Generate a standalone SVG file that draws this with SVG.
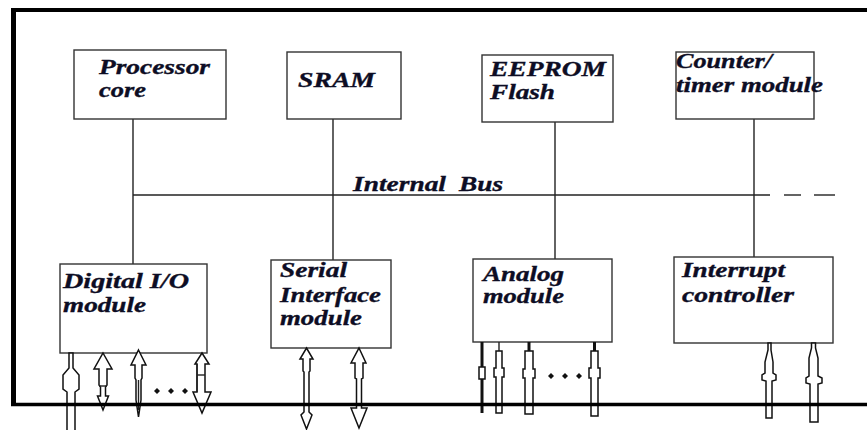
<svg xmlns="http://www.w3.org/2000/svg" width="867" height="430" viewBox="0 0 867 430">
  <style>
    .box { fill: #fff; stroke: #333; stroke-width: 1.4; }
    .lbl { font-family: "Liberation Serif", "DejaVu Serif", serif; font-weight: 700; font-style: italic; font-size: 21px; fill: #0d0d24; stroke: #0d0d24; stroke-width: 0.35; }
    .wire { stroke: #222; stroke-width: 1.4; fill: none; }
    .io { fill: #fff; stroke: #111; stroke-width: 1.5; stroke-linejoin: miter; }
    .thick { stroke: #111; stroke-width: 3; fill: none; }
    .frame { stroke: #000; fill: none; }
    .dot { fill: #111; }
  </style>
  <rect x="0" y="0" width="867" height="430" fill="#fff"/>

  <!-- internal bus and taps -->
  <g id="connectors">
    <line class="wire" x1="133" y1="195" x2="770" y2="195"/>
    <line class="wire" x1="784" y1="195" x2="801" y2="195"/>
    <line class="wire" x1="814" y1="195" x2="835" y2="195"/>
    <line class="wire" x1="133" y1="119" x2="133" y2="264"/>
    <line class="wire" x1="333" y1="119" x2="333" y2="260"/>
    <line class="wire" x1="555" y1="122" x2="555" y2="259"/>
    <line class="wire" x1="754" y1="119" x2="754" y2="257"/>
    <text class="lbl" x="353" y="191" textLength="93" lengthAdjust="spacingAndGlyphs">Internal</text>
    <text class="lbl" x="459" y="191" textLength="44" lengthAdjust="spacingAndGlyphs">Bus</text>
  </g>

  <g id="processor-core">
    <rect class="box" x="74" y="50" width="152" height="69"/>
    <text class="lbl" x="99" y="74" textLength="111" lengthAdjust="spacingAndGlyphs">Processor</text>
    <text class="lbl" x="99" y="97" textLength="47" lengthAdjust="spacingAndGlyphs">core</text>
  </g>
  <g id="sram">
    <rect class="box" x="287" y="52" width="114" height="67"/>
    <text class="lbl" x="298" y="87" textLength="77" lengthAdjust="spacingAndGlyphs">SRAM</text>
  </g>
  <g id="eeprom-flash">
    <rect class="box" x="482" y="55" width="131" height="67"/>
    <text class="lbl" x="490" y="76" textLength="116" lengthAdjust="spacingAndGlyphs">EEPROM</text>
    <text class="lbl" x="490" y="99" textLength="65" lengthAdjust="spacingAndGlyphs">Flash</text>
  </g>
  <g id="counter-timer">
    <rect class="box" x="676" y="52" width="138" height="67"/>
    <text class="lbl" x="676" y="68" textLength="96" lengthAdjust="spacingAndGlyphs">Counter/</text>
    <text class="lbl" x="676" y="92" textLength="147" lengthAdjust="spacingAndGlyphs">timer module</text>
  </g>
  <g id="digital-io">
    <rect class="box" x="60" y="264" width="147" height="89"/>
    <text class="lbl" x="63" y="288" textLength="126" lengthAdjust="spacingAndGlyphs">Digital I/O</text>
    <text class="lbl" x="63" y="312" textLength="83" lengthAdjust="spacingAndGlyphs">module</text>
  </g>
  <g id="serial-interface">
    <rect class="box" x="271" y="260" width="120" height="88"/>
    <text class="lbl" x="280" y="277" textLength="67" lengthAdjust="spacingAndGlyphs">Serial</text>
    <text class="lbl" x="280" y="302" textLength="101" lengthAdjust="spacingAndGlyphs">Interface</text>
    <text class="lbl" x="280" y="325" textLength="82" lengthAdjust="spacingAndGlyphs">module</text>
  </g>
  <g id="analog">
    <rect class="box" x="473" y="259" width="139" height="83"/>
    <text class="lbl" x="483" y="281" textLength="81" lengthAdjust="spacingAndGlyphs">Analog</text>
    <text class="lbl" x="483" y="303" textLength="81" lengthAdjust="spacingAndGlyphs">module</text>
  </g>
  <g id="interrupt-controller">
    <rect class="box" x="674" y="257" width="159" height="86"/>
    <text class="lbl" x="682" y="277" textLength="103" lengthAdjust="spacingAndGlyphs">Interrupt</text>
    <text class="lbl" x="682" y="302" textLength="112" lengthAdjust="spacingAndGlyphs">controller</text>
  </g>

  <!-- external I/O lines -->
  <g id="io-lines">
    <!-- digital I/O -->
    <polygon class="io" points="69,353 73,353 73,368 79,375 79,389 75,392 75,432 67,432 67,392 63,389 63,375 69,368"/>
    <polygon class="io" points="103,353 112,369 107,369 107,385 105.5,387 105.5,396 108.5,396 103,410 97.5,396 100.5,396 100.5,387 99,385 99,369 94,369"/>
    <line class="wire" x1="99" y1="386" x2="107" y2="386" stroke-width="2"/>
    <polygon class="io" points="138.5,350 146,365 142,365 142,378 141,380 141,400 138.5,417 136,400 136,380 135,378 135,365 131,365"/>
    <line class="wire" x1="138.5" y1="380" x2="138.5" y2="410" stroke-width="1"/>
    <polygon class="io" points="202,353 209,364 205,364 205,392 211,392 202,413 193,392 197,392 197,364 195,364"/>
    <line class="wire" x1="197" y1="375" x2="205" y2="375"/>
    <line class="wire" x1="197" y1="364" x2="197" y2="392" stroke-width="2.4"/>
    <polygon class="dot" points="157,388 160,391 157,394 154,391"/>
    <polygon class="dot" points="171,388 174,391 171,394 168,391"/>
    <polygon class="dot" points="185,388 188,391 185,394 182,391"/>

    <!-- serial interface -->
    <polygon class="io" points="306.5,348 313,359 310,359 310,371 309,372 309,412 312,415 306.5,429 301,415 304,412 304,372 303,371 303,359 300,359"/>
    <polygon class="io" points="359,348 366,363 363,363 363,378 361.5,379 361.5,408 367,408 359,428 351,408 356.5,408 356.5,379 355,378 355,363 351,363"/>

    <!-- analog -->
    <line class="thick" x1="482" y1="342" x2="482" y2="413"/>
    <rect class="io" x="479" y="367" width="6" height="12"/>
    <line class="wire" x1="499" y1="342" x2="499" y2="351"/>
    <polygon class="io" points="496,351 502,351 502,368 504,368 504,377 502,377 502,413 496,413 496,377 494,377 494,368 496,368"/>
    <line class="thick" x1="529" y1="342" x2="529" y2="351"/>
    <polygon class="io" points="525,351 533,351 533,369 535,369 535,378 533,378 533,414 525,414 525,378 523,378 523,369 525,369"/>
    <line class="thick" x1="594.5" y1="342" x2="594.5" y2="351"/>
    <polygon class="io" points="591,351 598,351 598,368 600,368 600,378 598,378 598,416 591,416 591,378 589,378 589,368 591,368"/>
    <polygon class="dot" points="551,373 554,376 551,379 548,376"/>
    <polygon class="dot" points="565,373 568,376 565,379 562,376"/>
    <polygon class="dot" points="579,373 582,376 579,379 576,376"/>

    <!-- interrupt -->
    <polygon class="io" points="768,343 771,343 771,350 773,362 773,373 776,375 776,380 772,381 772,418 766,418 766,381 762,380 762,375 765,373 765,362 768,350"/>
    <polygon class="io" points="811.5,343 815.5,343 815.5,348 818,358 818,376 822,378 822,383 818,384 818,422 810,422 810,384 806,383 806,378 809,376 809,358 811.5,348"/>
  </g>

  <!-- enclosing frame -->
  <g id="frame">
    <line class="frame" x1="11" y1="10" x2="867" y2="10" stroke-width="4"/>
    <line class="frame" x1="13.5" y1="8" x2="13.5" y2="406" stroke-width="5"/>
    <line class="frame" x1="11" y1="404.5" x2="867" y2="404.5" stroke-width="3.5"/>
  </g>
</svg>
